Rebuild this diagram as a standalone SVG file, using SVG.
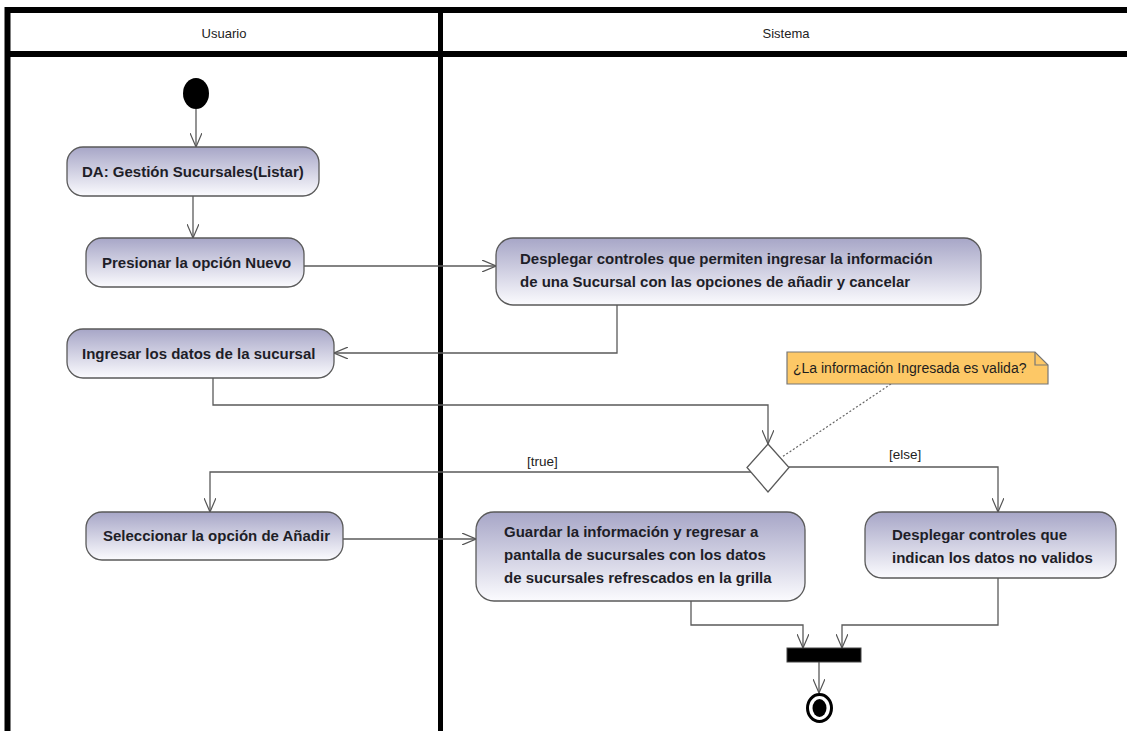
<svg xmlns="http://www.w3.org/2000/svg" width="1127" height="731" viewBox="0 0 1127 731">
<defs>
<linearGradient id="nodeGrad" x1="0" y1="0" x2="0" y2="1">
<stop offset="0" stop-color="#a7a6c7"/>
<stop offset="1" stop-color="#fbfbfe"/>
</linearGradient>
<marker id="arr" viewBox="0 0 14 12" refX="14" refY="6" markerWidth="14" markerHeight="12" markerUnits="userSpaceOnUse" orient="auto">
<path d="M0,0 L14,6 L0,12" fill="none" stroke="#555" stroke-width="1.2"/>
</marker>
</defs>
<style>
.lane{stroke:#000;stroke-width:6;fill:none}
.hdr{font-family:"Liberation Sans",Arial,sans-serif;font-size:13px;fill:#222;text-anchor:middle}
.node{fill:url(#nodeGrad);stroke:#5a5a5a;stroke-width:1.3}
.lbl{font-family:"Liberation Sans",Arial,sans-serif;font-size:15px;font-weight:bold;fill:#1e1e28}
.con{fill:none;stroke:#5a5a5a;stroke-width:1.3}
.guard{font-family:"Liberation Sans",Arial,sans-serif;font-size:13.5px;fill:#222}
.note{fill:#fdc866;stroke:#777;stroke-width:1.2}
</style>
<rect width="1127" height="731" fill="#fff"/>
<g id="swimlanes">
<line class="lane" x1="7.5" y1="10" x2="1127" y2="10"/>
<line class="lane" x1="7.5" y1="54" x2="1127" y2="54"/>
<line class="lane" x1="7.5" y1="7" x2="7.5" y2="731"/>
<line class="lane" x1="440.5" y1="7" x2="440.5" y2="731" style="stroke-width:5"/>
<text class="hdr" x="224" y="38">Usuario</text>
<text class="hdr" x="786" y="38">Sistema</text>
</g>
<g id="connectors">
<line class="con" x1="196" y1="109" x2="196" y2="147" marker-end="url(#arr)"/>
<line class="con" x1="193" y1="196" x2="193" y2="238" marker-end="url(#arr)"/>
<line class="con" x1="304" y1="266" x2="496" y2="266" marker-end="url(#arr)"/>
<polyline class="con" points="617,305 617,353 334,353" marker-end="url(#arr)"/>
<polyline class="con" points="213,378 213,405 768,405 768,444" marker-end="url(#arr)"/>
<polyline class="con" points="751,472 210,472 210,512" marker-end="url(#arr)"/>
<polyline class="con" points="789,467 998,467 998,512" marker-end="url(#arr)"/>
<line class="con" x1="343" y1="539" x2="476" y2="539" marker-end="url(#arr)"/>
<polyline class="con" points="691,601 691,625 803,625 803,648" marker-end="url(#arr)"/>
<polyline class="con" points="998,578 998,625 842,625 842,648" marker-end="url(#arr)"/>
<line class="con" x1="819" y1="662" x2="819" y2="693" marker-end="url(#arr)"/>
<line x1="891" y1="384" x2="782" y2="457" stroke="#666" stroke-width="1.2" stroke-dasharray="2,2"/>
<text class="guard" x="527" y="466">[true]</text>
<text class="guard" x="889" y="459">[else]</text>
</g>
<g id="start">
<ellipse cx="196" cy="93.5" rx="13" ry="15.5" fill="#000"/>
</g>
<g id="n_da">
<rect class="node" x="67" y="147" width="252" height="49" rx="16"/>
<text class="lbl" x="82" y="177">DA: Gestión Sucursales(Listar)</text>
</g>
<g id="n_presionar">
<rect class="node" x="86" y="238" width="218" height="49" rx="16"/>
<text class="lbl" x="102" y="268">Presionar la opción Nuevo</text>
</g>
<g id="n_desplegar1">
<rect class="node" x="496" y="238" width="485" height="67" rx="17"/>
<text class="lbl" x="520" y="264">Desplegar controles que permiten ingresar la información</text>
<text class="lbl" x="520" y="287">de una Sucursal con las opciones de añadir y cancelar</text>
</g>
<g id="n_ingresar">
<rect class="node" x="67" y="329" width="267" height="49" rx="16"/>
<text class="lbl" x="82" y="359">Ingresar los datos de la sucursal</text>
</g>
<g id="note">
<path class="note" d="M787,352 L1035,352 L1048,365 L1048,384 L787,384 Z"/>
<path d="M1035,352 L1035,365 L1048,365" fill="none" stroke="#777" stroke-width="1.2"/>
<text x="793" y="373" style="font-family:'Liberation Sans',Arial,sans-serif;font-size:14px;fill:#1e1e1e">¿La información Ingresada es valida?</text>
</g>
<g id="decision">
<polygon points="768,444 789,467.5 768,492 747,467.5" fill="#fff" stroke="#5a5a5a" stroke-width="1.3"/>
</g>
<g id="n_seleccionar">
<rect class="node" x="86" y="512" width="257" height="48" rx="16"/>
<text class="lbl" x="103" y="541">Seleccionar la opción de Añadir</text>
</g>
<g id="n_guardar">
<rect class="node" x="476" y="512" width="329" height="89" rx="18"/>
<text class="lbl" x="504" y="537">Guardar la información y regresar a</text>
<text class="lbl" x="504" y="560">pantalla de sucursales con los datos</text>
<text class="lbl" x="504" y="583">de sucursales refrescados en la grilla</text>
</g>
<g id="n_desplegar2">
<rect class="node" x="865" y="512" width="251" height="66" rx="17"/>
<text class="lbl" x="892" y="540">Desplegar controles que</text>
<text class="lbl" x="892" y="563">indican los datos no validos</text>
</g>
<g id="join">
<rect x="787" y="648" width="74" height="14" fill="#000" stroke="#444" stroke-width="1"/>
</g>
<g id="end">
<ellipse cx="819.5" cy="708" rx="12" ry="13.5" fill="#fff" stroke="#000" stroke-width="3"/>
<ellipse cx="819.5" cy="708" rx="7" ry="9" fill="#000"/>
</g>
</svg>
